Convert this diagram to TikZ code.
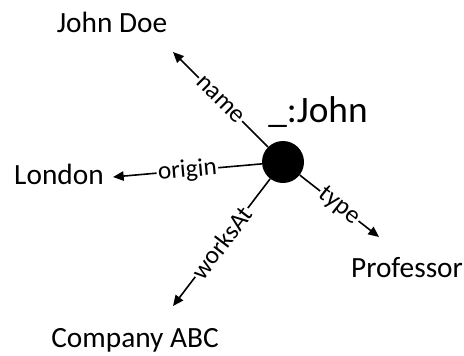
\documentclass[tikz,border=0pt]{standalone}
\usepackage{fontspec}
\setmainfont{Carlito}
\usepackage{tikz}
\usetikzlibrary{arrows.meta}

\begin{document}
\begin{tikzpicture}[x=0.75pt, y=0.75pt,
      res/.style={circle, fill=black, inner sep=0pt, minimum size=31.5pt},
      lit/.style={font=\fontsize{22}{26}\selectfont, inner sep=2pt},
      lbl/.style={font=\fontsize{19}{22}\selectfont, fill=white, inner sep=1pt, sloped},
      arr/.style={-{Triangle[length=8pt, width=7pt]}, line width=1.2pt}
  ]
    \useasboundingbox (0,0) rectangle (464,355);
    % blank node and its name
    \node[res] (john) at (283,193) {};
    \node[font=\fontsize{28}{32}\selectfont, inner sep=0pt] (jname) at (318,243) {\_:John};
    % objects
    \node[lit] (jd)   at (112,333) {John Doe};
    \node[lit] (lon)  at (59,181)  {London};
    \node[lit] (prof) at (407,87)  {Professor};
    \node[lit] (comp) at (135,15)  {Company ABC};
    % arrow ends
    \coordinate (tname)   at (173,303);
    \coordinate (torigin) at (113,178);
    \coordinate (tworks)  at (173,49);
    \coordinate (ttype)   at (379,118);
    \draw[arr] (john) -- node[lbl] {name} (tname);
    \draw[arr] (john) -- node[lbl] {origin} (torigin);
    \draw[arr] (john) -- node[lbl] {worksAt} (tworks);
    \draw[arr] (john) -- node[lbl] {type} (ttype);
  \end{tikzpicture}
\end{document}
